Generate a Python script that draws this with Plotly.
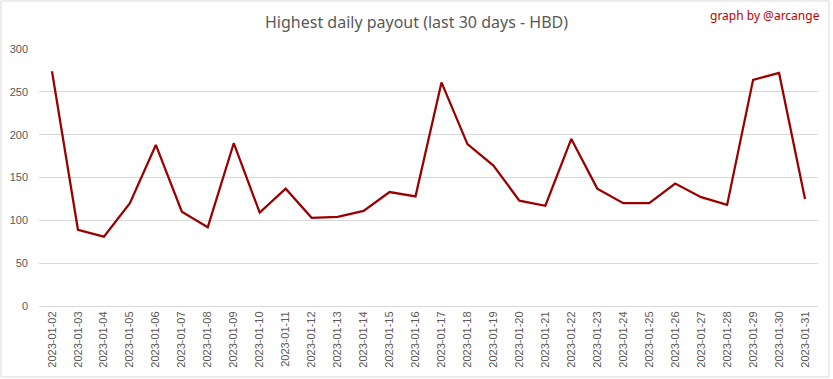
import plotly.graph_objects as go

dates = ["2023-01-%02d" % d for d in range(2, 32)]
payout = [274, 89, 81, 120, 188, 110, 92, 190, 109, 137, 103, 104, 111, 133, 128,
          261, 189, 164, 123, 117, 195, 137, 120, 120, 143, 127, 118, 264, 272, 125]
y_ticks = [0, 50, 100, 150, 200, 250, 300]

W, H = 833, 379
L, R, T, B = 39, 15, 49, 73
pw, ph = W - L - R, H - T - B

fig = go.Figure()
fig.add_trace(go.Scatter(
    x=dates, y=payout, mode="lines",
    line=dict(color="#990000", width=2.25),
    hoverinfo="x+y",
))

def px_x(p):
    return (p - L) / pw

def px_y(p):
    return (H - B - p) / ph

fig.update_layout(
    width=W, height=H,
    margin=dict(l=L, r=R, t=T, b=B, autoexpand=False),
    paper_bgcolor="white", plot_bgcolor="white",
    showlegend=False,
    font=dict(family="Liberation Sans, Arial, sans-serif", color="#595959"),
    title=dict(text="Highest daily payout (last 30 days - HBD)",
               x=0.5, xanchor="center", y=1 - 22 / H, yanchor="middle",
               font=dict(size=16, color="#595959", family="Noto Sans, sans-serif")),
    xaxis=dict(type="category", range=[-0.5, len(dates) - 0.5],
               tickangle=-90, tickfont=dict(size=11, color="#595959"),
               showgrid=False, showline=True, linecolor="#d9d9d9", linewidth=1,
               ticks="", fixedrange=True, automargin=False),
    yaxis=dict(range=[0, 300], tickvals=y_ticks, ticktext=[str(v) for v in y_ticks],
               tickfont=dict(size=11, color="#595959"),
               showgrid=True, gridcolor="#d9d9d9", gridwidth=1,
               zeroline=False, showline=False, ticks="", ticklen=0,
               ticklabelstandoff=10, fixedrange=True, automargin=False),
    annotations=[dict(text="graph by @arcange", xref="paper", yref="paper",
                      x=px_x(822), y=px_y(15), xanchor="right", yanchor="middle",
                      showarrow=False,
                      font=dict(size=12, color="#c00000", family="Noto Sans, sans-serif"))],
    shapes=[dict(type="rect", xref="paper", yref="paper",
                 x0=px_x(1), x1=px_x(829), y0=px_y(377), y1=px_y(1),
                 line=dict(color="#d9d9d9", width=1), fillcolor="rgba(0,0,0,0)",
                 layer="below")],
)

fig.write_html("out.html", config={"displayModeBar": False},
               post_script="document.body.style.margin='0';")
